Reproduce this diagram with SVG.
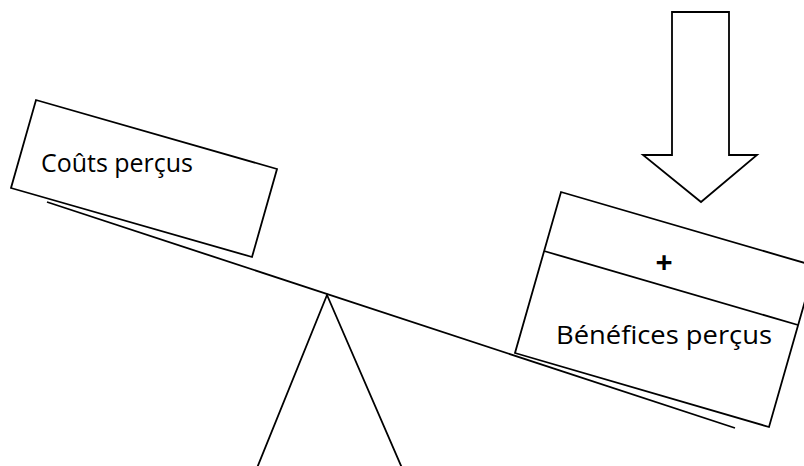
<svg xmlns="http://www.w3.org/2000/svg" width="804" height="466" viewBox="0 0 804 466">
  <style>
    .ln { fill: none; stroke: #000; stroke-width: 1.8; stroke-linejoin: miter; }
    .box { fill: #fff; stroke: #000; stroke-width: 1.8; }
    .lbl { font-family: "Open Sans", "Noto Sans", "Liberation Sans", sans-serif; font-size: 25px; fill: #000; }
    .plus { font-family: "Open Sans", "Liberation Sans", sans-serif; font-size: 30px; font-weight: bold; fill: #000; }
  </style>
  <rect width="804" height="466" fill="#fff"/>

  <!-- balance beam and pivot stand -->
  <g id="connectors">
    <line class="ln" x1="47" y1="202" x2="735" y2="428"/>
    <polyline class="ln" points="257,468 327,295 402,468"/>
  </g>

  <!-- tilted box on the raised side -->
  <g id="couts">
    <polygon class="box" points="36,100 277,169 252,257 11,188"/>
    <text class="lbl" x="41" y="172" textLength="152" lengthAdjust="spacingAndGlyphs">Coûts perçus</text>
  </g>

  <!-- tilted box on the lowered side, split by a divider -->
  <g id="benefices">
    <polygon class="box" points="561,192 815,266 769,427 515,353"/>
    <line class="ln" x1="544" y1="251" x2="798" y2="325"/>
    <text class="plus" x="664" y="273" text-anchor="middle">+</text>
    <text class="lbl" x="556" y="344" textLength="216" lengthAdjust="spacingAndGlyphs">Bénéfices perçus</text>
  </g>

  <!-- downward block arrow pressing on the heavier side -->
  <g id="arrow">
    <polygon class="box" points="672,12 729,12 729,155 757,155 701,202 643,155 672,155"/>
  </g>
</svg>
